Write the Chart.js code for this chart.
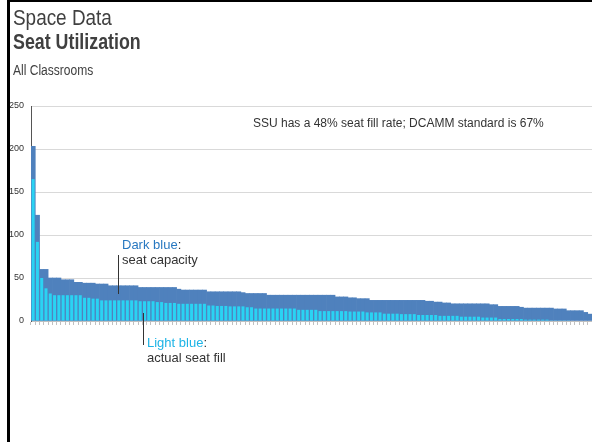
<!DOCTYPE html>
<html>
<head>
<meta charset="utf-8">
<script src="https://cdn.jsdelivr.net/npm/chart.js@4/dist/chart.umd.min.js"></script>
<style>
  body { margin: 0; background: #fff; }
  #wrap { position: relative; width: 592px; height: 442px; overflow: hidden; }
  #chart { position: absolute; left: 0; top: 0; }
  .frame-left { position: absolute; left: 7px; top: 0; width: 3px; height: 442px; background: #000; }
  .frame-top { position: absolute; left: 7px; top: 0; width: 585px; height: 2px; background: #000; }
  .head { position: absolute; left: 13px; color: #404040; white-space: nowrap; transform-origin: 0 0;
    font-family: "Liberation Sans", Arial, sans-serif; }
  .note { position: absolute; white-space: nowrap; color: #333;
    font-family: "Liberation Sans", Arial, sans-serif; }
  .pointer { position: absolute; width: 1px; background: #333; }
</style>
</head>
<body>
<div id="wrap">
  <canvas id="chart" width="592" height="442"></canvas>
  <div class="frame-left"></div>
  <div class="frame-top"></div>
  <div class="head" style="top:7px;font-size:22px;line-height:22px;transform:scaleX(0.86);">Space Data</div>
  <div class="head" style="top:31px;font-size:22px;line-height:22px;font-weight:bold;transform:scaleX(0.81);">Seat Utilization</div>
  <div class="head" style="top:63px;font-size:14px;line-height:14px;transform:scaleX(0.86);">All Classrooms</div>
  <div class="note" style="left:253px;top:116px;font-size:12px;line-height:14px;">SSU has a 48% seat fill rate; DCAMM standard is 67%</div>
  <div class="note" style="left:122px;top:237px;font-size:13px;line-height:15px;"><span style="color:#2878c0">Dark blue</span>:<br>seat capacity</div>
  <div class="pointer" style="left:118px;top:255px;height:39px;"></div>
  <div class="note" style="left:147px;top:335px;font-size:13px;line-height:15px;"><span style="color:#1db4e6">Light blue</span>:<br>actual seat fill</div>
  <div class="pointer" style="left:143px;top:313px;height:32px;"></div>
</div>
<script>
// classrooms sorted by seat capacity
const capacity = [
  203, 123, 60, 60, 50, 50, 50, 48, 48, 48,
  45, 45, 44, 44, 44, 43, 43, 43, 41, 41,
  41, 41, 41, 41, 41, 39, 39, 39, 39, 39,
  39, 39, 39, 39, 37, 36, 36, 36, 36, 36,
  36, 34, 34, 34, 34, 34, 34, 34, 34, 33,
  32, 32, 32, 32, 32, 30, 30, 30, 30, 30,
  30, 30, 30, 30, 30, 30, 30, 30, 30, 30,
  30, 28, 28, 28, 27, 27, 26, 26, 26, 24,
  24, 24, 24, 24, 24, 24, 24, 24, 24, 24,
  24, 24, 23, 23, 22, 22, 21, 21, 20, 20,
  20, 20, 20, 20, 20, 20, 20, 19, 19, 17,
  17, 17, 17, 17, 16, 15, 15, 15, 15, 15,
  15, 15, 14, 14, 14, 12, 12, 12, 12, 10,
  8
];

// average seats actually filled
const fill = [
  165, 92, 50, 38, 32, 30, 30, 30, 30, 30,
  30, 30, 27, 27, 26, 26, 24, 24, 24, 24,
  24, 24, 24, 24, 24, 23, 23, 23, 23, 22,
  22, 21, 21, 21, 20, 20, 20, 20, 20, 20,
  20, 18, 18, 17.5, 17.5, 17.5, 17, 17, 17, 17,
  16, 16, 14.5, 14.5, 14.5, 14.5, 14.5, 14.5, 14.5, 14.5,
  14.5, 14.5, 13, 13, 13, 13, 13, 11.5, 11.5, 11.5,
  11.5, 11.5, 11.5, 11.5, 11, 11, 11, 11, 10, 10,
  10, 10, 8.5, 8.5, 8.5, 8.5, 8, 8, 8, 8,
  7, 7, 7, 7, 7, 6, 6, 6, 6, 6,
  5, 5, 5, 5, 5, 4, 4, 4, 4, 2.3,
  2.3, 2.3, 2.3, 2.3, 2.3, 1.6, 1.6, 1.6, 1.6, 1.6,
  1.6, 0.8, 0.8, 0.8, 0.8, 0.8, 0, 0, 0, 0,
  0
];

const rooms = capacity.map((_, i) => 'Classroom ' + (i + 1));
const yTicks = [0, 50, 100, 150, 200, 250];

let ctx = document.getElementById('chart').getContext('2d');

new Chart(ctx, {
  type: 'bar',
  data: {
    labels: rooms,
    datasets: [
      {
        label: 'Actual seat fill',
        data: fill,
        backgroundColor: '#2ad3f3',
        barPercentage: 0.7,
        categoryPercentage: 1,
        grouped: false,
        order: 1,
      },
      {
        label: 'Seat capacity',
        data: capacity,
        backgroundColor: '#4f81bd',
        barPercentage: 1,
        categoryPercentage: 1,
        grouped: false,
        order: 2,
      },
    ],
  },
  options: {
    responsive: false,
    animation: false,
    devicePixelRatio: 1,
    layout: { padding: { top: 106, left: 0, right: 0, bottom: 0 } },
    plugins: {
      legend: { display: false },
      tooltip: { enabled: false },
    },
    scales: {
      x: {
        ticks: { display: false },
        grid: {
          display: true,
          drawOnChartArea: false,
          drawTicks: true,
          tickLength: 4,
          color: '#c0c0c0',
        },
        border: { display: true, color: '#c0c0c0' },
        afterFit: (scale) => { scale.height = 121; },
      },
      y: {
        min: 0,
        max: 250,
        afterBuildTicks: (scale) => { scale.ticks = yTicks.map((v) => ({ value: v })); },
        ticks: {
          padding: 7,
          color: '#333',
          font: { family: 'Liberation Sans, Arial, sans-serif', size: 9 },
        },
        grid: { color: '#d9d9d9', drawTicks: false },
        border: { display: true, color: '#555' },
        afterFit: (scale) => { scale.width = 31; },
      },
    },
  },
});
</script>
</body>
</html>
